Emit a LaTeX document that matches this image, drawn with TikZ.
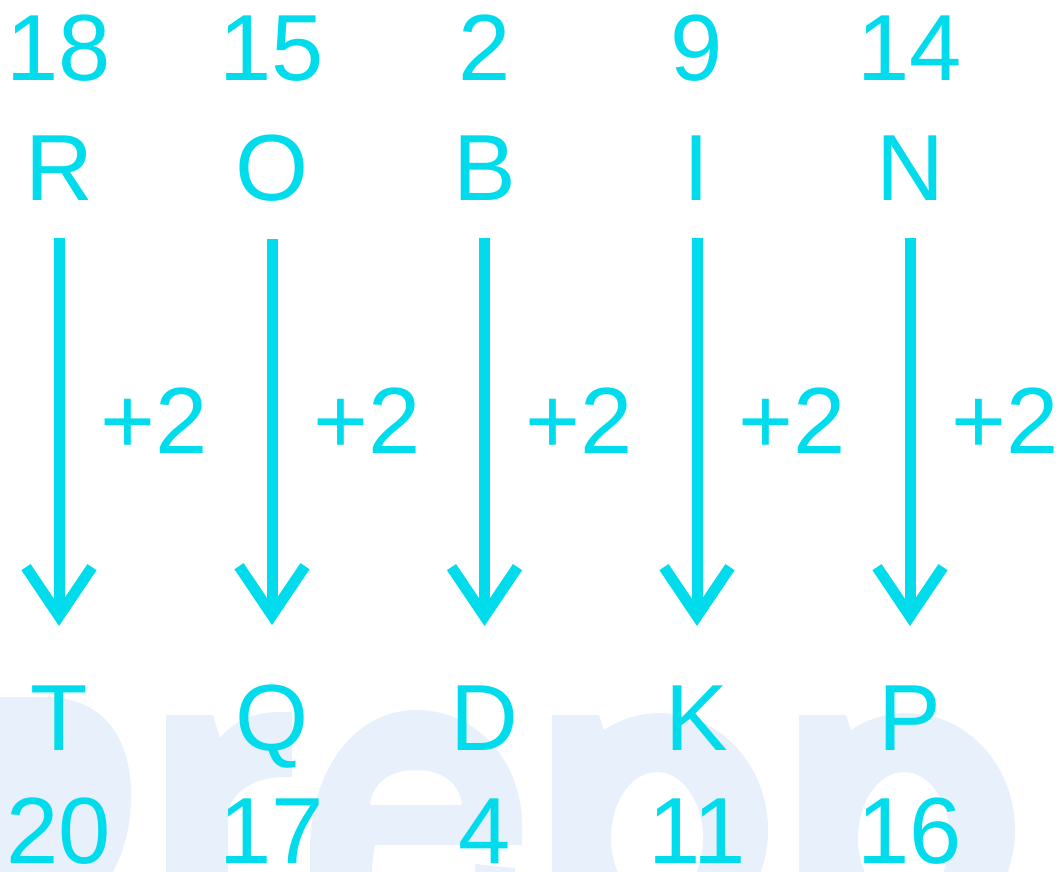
\documentclass[tikz,border=0pt]{standalone}
\usepackage{fontspec}
\setmainfont{Liberation Sans}
\usetikzlibrary{calc}
\definecolor{cyanink}{RGB}{0,220,236}
\definecolor{wmblue}{RGB}{232,240,251}
\begin{document}
\begin{tikzpicture}[x=1pt,y=-1pt,
 lbl/.style={text=cyanink,font=\fontsize{94}{100}\selectfont,inner sep=0pt,anchor=base},
 stemline/.style={draw=cyanink,line width=11pt,shorten <=38pt,shorten >=69pt},
 chev/.style={draw=cyanink,line width=11pt,miter limit=10},
 wm/.style={fill=wmblue}]
\useasboundingbox (0,0) rectangle (1063,871);
\begin{scope}
\clip (0,0) rectangle (1063,871);
% P
\fill[wm] (-20,900) -- (-20,697) -- (45,697) .. controls (105,697) and (131,740) .. (131,795)
  .. controls (131,830) and (122,860) .. (105,885) -- (105,900) -- cycle;
% r
\fill[wm] (166,900) -- (166,715) -- (213,715) -- (220,738)
  .. controls (235,720) and (255,712) .. (280,712) -- (292,712) -- (292,777) -- (285,777)
  .. controls (255,777) and (235,790) .. (228,810) -- (228,900) -- cycle;
% e
\fill[wm,even odd rule] (310,900) -- (310,850) .. controls (310,770) and (355,710) .. (416,710)
  .. controls (480,710) and (522,765) .. (522,825) -- (522,845) -- (375,845)
  .. controls (373,855) and (372,865) .. (372,875) -- (372,900) -- cycle
  (370,805) .. controls (372,783) and (390,770) .. (416,770) .. controls (442,770) and (460,783) .. (462,805) -- cycle;
\fill[wm] (475,864) -- (515,868) -- (515,900) -- (475,900) -- cycle;
% p p
\foreach \xo in {552,799}{
  \fill[wm] (\xo,900) -- (\xo,715) -- (\xo+47,715) -- (\xo+54,737) -- (\xo+57,900) -- cycle;
  \fill[wm,even odd rule] (\xo+108,830) ellipse [x radius=108pt, y radius=117pt]
    (\xo+105,838) ellipse [x radius=46pt, y radius=66pt];
}
\end{scope}
\foreach \i/\x/\a/\b/\c/\d in {0/59/18/R/T/20,1/272/15/O/Q/17,2/484.5/2/B/D/4,3/697/9/I/K/11,4/910/14/N/P/16}{
  \node[lbl] (top\i) at (\x,80) {\a};
  \node[lbl] (up\i) at (\x,200) {\b};
  \node[lbl] (lo\i) at (\x,750) {\c};
  \node[lbl] (bot\i) at (\x,863) {\d};
  \node[lbl] (add\i) at (\x+95,453) {+2};
  \draw[stemline] (up\i) -- (lo\i);
  \draw[chev] ($(lo\i.north)+(-33,-118)$) -- ($(lo\i.north)+(0,-69)$) -- ($(lo\i.north)+(33,-118)$);
}
\end{tikzpicture}
\end{document}
